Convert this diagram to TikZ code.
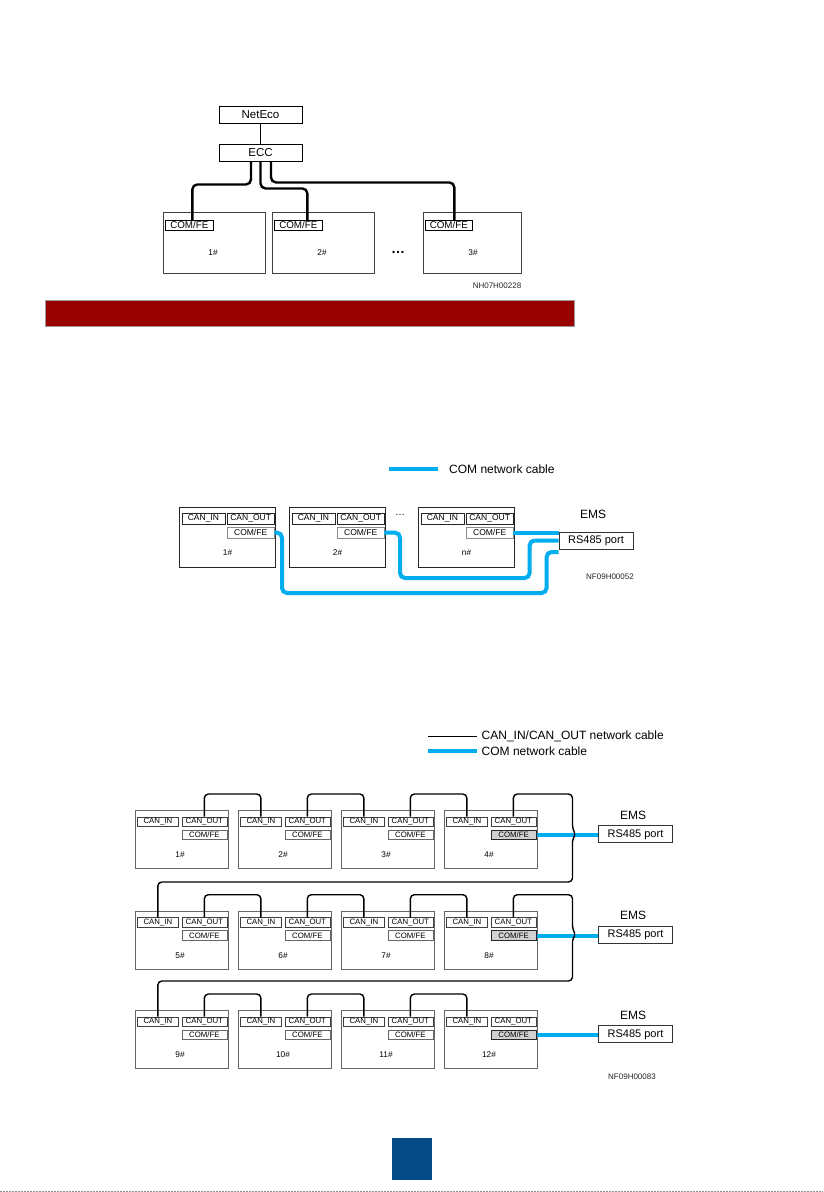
\documentclass[tikz,border=0pt]{standalone}
\usepackage{fontspec}
\setmainfont{Liberation Sans}
\usetikzlibrary{calc}
\definecolor{comblue}{RGB}{0,174,239}
\definecolor{barred}{RGB}{153,0,0}
\definecolor{pageblue}{RGB}{3,74,135}
\tikzset{
  nw/.style={inner sep=0pt, anchor=north west},
  tbox/.style={draw=black, line width=0.9pt, inner sep=0pt, minimum width=83pt, minimum height=17pt, font=\fontsize{11.5}{13}\selectfont},
  tubox/.style={nw, draw=black!75, line width=0.8pt, minimum width=102pt, minimum height=61pt},
  tlbl/.style={nw, draw=black, line width=0.7pt, minimum width=48pt, minimum height=10pt, font=\fontsize{9.8}{10}\selectfont},
  num/.style={inner sep=0pt, font=\fontsize{8.3}{9}\selectfont},
  code/.style={inner sep=0pt, text=black!85, font=\fontsize{8}{9}\selectfont},
  tcab/.style={line width=2.4pt, rounded corners=5pt},
  mbox/.style={nw, draw=black!85, line width=0.8pt, minimum width=96pt, minimum height=60pt},
  mlbl/.style={nw, draw=black!85, line width=0.8pt, minimum height=10.5pt, font=\fontsize{8.5}{9}\selectfont},
  bbox/.style={nw, draw=black!60, line width=0.8pt, minimum width=93pt, minimum height=58pt},
  blbl/.style={nw, draw=black!75, line width=0.7pt, minimum height=9.5pt, minimum width=45pt, font=\fontsize{7.8}{8}\selectfont},
  comhi/.style={fill=black!18, draw=black!85, line width=1.2pt},
  comlo/.style={draw=black!60},
  bcab/.style={comblue, line width=4pt, rounded corners=5pt},
  ccab/.style={black, line width=1.4pt, rounded corners=4pt},
  rsbox/.style={draw=black!80, line width=0.8pt, inner sep=0pt, minimum width=74pt, minimum height=17pt, font=\fontsize{11}{12}\selectfont},
  ems/.style={inner sep=0pt, font=\fontsize{12}{13}\selectfont},
  legend/.style={inner sep=0pt, anchor=west, font=\fontsize{12}{14}\selectfont}
}
\newcommand{\midunit}[3]{%
  \node[mbox] (#1) at (#2,507) {};
  \node[mlbl, minimum width=43pt] (#1in) at ({#2+2.5},513) {CAN\_IN};
  \node[mlbl, minimum width=46.5pt] (#1out) at ({#2+48},513) {CAN\_OUT};
  \node[mlbl, draw=black!45, minimum width=46.5pt] (#1com) at ({#2+48},527) {COM/FE};
  \node[num] (#1n) at ({#2+48.5},553) {#3};
}
\newcommand{\botunit}[5]{%
  \node[bbox] (#1) at (#2,#3) {};
  \node[blbl, minimum width=41pt] (#1in) at ({#2+2},{#3+6.7}) {CAN\_IN};
  \node[blbl] (#1out) at ({#2+46.5},{#3+6.7}) {CAN\_OUT};
  \node[blbl, #5] (#1com) at ({#2+46.5},{#3+19.5}) {COM/FE};
  \node[num] (#1n) at ({#2+45},{#3+45}) {#4};
}
\begin{document}
\begin{tikzpicture}[x=1pt,y=-1pt]
\useasboundingbox[fill=white] (0,0) rectangle (823,1192);

% ---------- top diagram ----------
\node[tbox] (neteco) at (260.5,114.5) {NetEco};
\node[tbox] (ecc) at (260.5,152.5) {ECC};
\draw[line width=1.6pt] (neteco) -- (ecc);

\node[tubox] (t1) at (163,212) {};
\node[tubox] (t2) at (272,212) {};
\node[tubox, minimum width=98pt] (t3) at (423,212) {};
\node[tlbl] (t1c) at (165,220) {COM/FE};
\node[tlbl] (t2c) at (274,220) {COM/FE};
\node[tlbl, minimum width=47pt] (t3c) at (425,220) {COM/FE};
\node[num] (t1n) at (213,253) {1\#};
\node[num] (t2n) at (322,253) {2\#};
\node[num] (t3n) at (473,253) {3\#};
\node[inner sep=0pt, font=\fontsize{14}{14}\selectfont\bfseries] (tdots) at (398,252) {…};

\draw[tcab] ([xshift=-9.5pt]ecc.south) -- ++(0,23) -| ([xshift=3pt]t1c.north);
\draw[tcab] (ecc.south) -- ++(0,27) -| ([xshift=9pt]t2c.north);
\draw[tcab] ([xshift=10.5pt]ecc.south) -- ++(0,21) -| ([xshift=5.5pt]t3c.north);

\node[code] (code1) at (497,286) {NH07H00228};

% ---------- red bar ----------
\node[nw, fill=barred, draw=black!40, line width=1.8pt, minimum width=529pt, minimum height=26pt] (bar) at (44.5,299.5) {};

% ---------- middle diagram ----------
\coordinate (mla) at (389,469);
\coordinate (mlb) at (438,469);
\draw[comblue, line width=4pt] (mla) -- (mlb);
\node[legend] (mlt) at (449,469) {COM network cable};

\midunit{ma}{179}{1\#}
\midunit{mb}{289}{2\#}
\midunit{mc}{418}{n\#}
\node[inner sep=0pt, font=\fontsize{10}{10}\selectfont] (mdots) at (400,515) {…};

\node[ems] (ems0) at (593,514) {EMS};
\node[rsbox] (rs0) at (596,540.5) {RS485 port};
\node[code] (code2) at (610,577) {NF09H00052};

\draw[bcab] (mccom.east) -- (mccom.east -| rs0.west);
\draw[bcab] (mbcom.east) -| (400,578) -| ($(rs0.west)+(-29,0)$) -- (rs0.west);
\draw[bcab] (macom.east) -| (282,593) -| ($(rs0.west)+(-12,11.5)$) -- ($(rs0.west)+(0,11.5)$);

% ---------- bottom diagram ----------
\coordinate (bla) at (428,736.7);
\coordinate (blb) at (477,736.7);
\coordinate (blc) at (428,751);
\coordinate (bld) at (477,751);
\draw[black, line width=1.2pt] (bla) -- (blb);
\draw[comblue, line width=4pt] (blc) -- (bld);
\node[legend] (blt1) at (481.5,736.7) {CAN\_IN/CAN\_OUT network cable};
\node[legend] (blt2) at (481.5,751) {COM network cable};

\botunit{u1}{135}{810}{1\#}{comlo}
\botunit{u2}{238}{810}{2\#}{comlo}
\botunit{u3}{341}{810}{3\#}{comlo}
\botunit{u4}{444}{810}{4\#}{comhi}
\botunit{u5}{135}{910.7}{5\#}{comlo}
\botunit{u6}{238}{910.7}{6\#}{comlo}
\botunit{u7}{341}{910.7}{7\#}{comlo}
\botunit{u8}{444}{910.7}{8\#}{comhi}
\botunit{u9}{135}{1010}{9\#}{comlo}
\botunit{u10}{238}{1010}{10\#}{comlo}
\botunit{u11}{341}{1010}{11\#}{comlo}
\botunit{u12}{444}{1010}{12\#}{comhi}

\node[ems] (ems1) at (633,815.5) {EMS};
\node[rsbox] (rs1) at (635.5,834.3) {RS485 port};
\node[ems] (ems2) at (633,915.5) {EMS};
\node[rsbox] (rs2) at (635.5,934.5) {RS485 port};
\node[ems] (ems3) at (633,1015.5) {EMS};
\node[rsbox] (rs3) at (635.5,1034.3) {RS485 port};
\node[code] (code3) at (632,1077) {NF09H00083};

\draw[bcab] (u4com.east) -- (u4com.east -| rs1.west);
\draw[bcab] (u8com.east) -- (u8com.east -| rs2.west);
\draw[bcab] (u12com.east) -- (u12com.east -| rs3.west);

% CAN chains
\draw[ccab] (u1out.north) -- ++(0,-22.7) -| (u2in.north);
\draw[ccab] (u2out.north) -- ++(0,-22.7) -| (u3in.north);
\draw[ccab] (u3out.north) -- ++(0,-22.7) -| (u4in.north);
\draw[ccab] (u5out.north) -- ++(0,-22.7) -| (u6in.north);
\draw[ccab] (u6out.north) -- ++(0,-22.7) -| (u7in.north);
\draw[ccab] (u7out.north) -- ++(0,-22.7) -| (u8in.north);
\draw[ccab] (u9out.north) -- ++(0,-22.7) -| (u10in.north);
\draw[ccab] (u10out.north) -- ++(0,-22.7) -| (u11in.north);
\draw[ccab] (u11out.north) -- ++(0,-22.7) -| (u12in.north);

\draw[ccab] (u4out.north) -- ++(0,-22.7) -| (572.5,829)
  [rounded corners=2pt] -- (575.5,834.3) -- (572.5,839.5)
  [rounded corners=4pt] -- (572.5,882) -| (u5in.north);
\draw[ccab] (u8out.north) -- ++(0,-22.7) -| (572.5,929.5)
  [rounded corners=2pt] -- (575.5,934.5) -- (572.5,939.5)
  [rounded corners=4pt] -- (572.5,981) -| (u9in.north);

% ---------- page marker ----------
\node[nw, fill=pageblue, minimum width=40pt, minimum height=42pt] (page) at (392,1138) {};
\coordinate (dl) at (0,1191.3);
\coordinate (dr) at (823,1191.3);
\draw[black!45, line width=1.2pt, dash pattern=on 1.5pt off 1.5pt] (dl) -- (dr);
\end{tikzpicture}
\end{document}
